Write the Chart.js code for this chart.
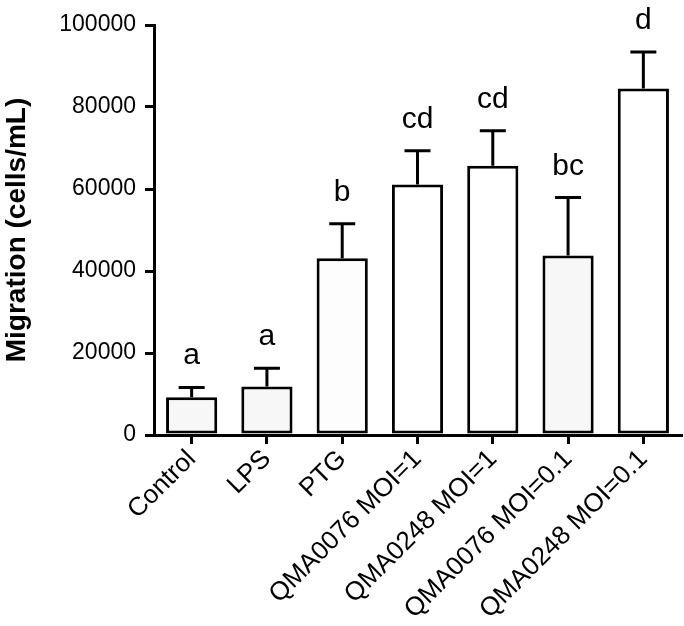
<!DOCTYPE html>
<html>
<head>
<meta charset="utf-8">
<script src="https://cdn.jsdelivr.net/npm/chart.js@4"></script>
<style>
  html, body { margin: 0; padding: 0; background: #fff; }
  #wrap { width: 684px; height: 626px; }
</style>
</head>
<body>
<div id="wrap"><canvas id="chart"></canvas></div>
<script>
const groups = ['Control', 'LPS', 'PTG', 'QMA0076 MOI=1', 'QMA0248 MOI=1', 'QMA0076 MOI=0.1', 'QMA0248 MOI=0.1']
const means = [9200, 11800, 43100, 61100, 65700, 43800, 84500]
const errors = [2400, 4500, 8400, 8200, 8500, 14100, 8900]
const letters = ['a', 'a', 'b', 'cd', 'cd', 'bc', 'd']
const fills = ['#f7f7f7', '#f7f7f7', '#fdfdfd', '#ffffff', '#ffffff', '#f7f7f7', '#ffffff']

const FONT = '"Liberation Sans", Arial, sans-serif'

// error bars (upper only) and significance letters
const errorBars = {
  id: 'errorBars',
  afterDatasetsDraw(chart) {
    const { ctx, scales: { x, y } } = chart
    ctx.save()
    ctx.strokeStyle = '#000'
    ctx.lineWidth = 3
    ctx.fillStyle = '#000'
    ctx.font = '30px ' + FONT
    ctx.textAlign = 'center'
    ctx.textBaseline = 'alphabetic'
    means.forEach((m, i) => {
      const cx = x.getPixelForValue(i)
      const top = y.getPixelForValue(m)
      const cap = y.getPixelForValue(m + errors[i])
      ctx.beginPath()
      ctx.moveTo(cx, top)
      ctx.lineTo(cx, cap)
      ctx.moveTo(cx - 13, cap)
      ctx.lineTo(cx + 13, cap)
      ctx.stroke()
      ctx.fillText(letters[i], cx, cap - 23)
    })
    ctx.restore()
  },
}

const ctx = document.getElementById('chart').getContext('2d')

/* eslint-disable no-new */
new Chart(ctx, {
  type: 'bar',
  data: {
    labels: groups,
    datasets: [{
      data: means,
      backgroundColor: fills,
      borderColor: '#000',
      borderWidth: 3,
      borderSkipped: false,
      barPercentage: 0.68,
      categoryPercentage: 1,
    }],
  },
  options: {
    responsive: true,
    maintainAspectRatio: false,
    animation: false,
    layout: { padding: { top: 25, right: 3, left: 0, bottom: 0 } },
    plugins: {
      legend: { display: false },
      tooltip: { enabled: false },
    },
    scales: {
      x: {
        grid: {
          display: true,
          drawOnChartArea: false,
          drawTicks: true,
          offset: false,
          tickLength: 9,
          lineWidth: 3,
          color: '#000',
        },
        border: { display: true, width: 3, color: '#000' },
        ticks: {
          color: '#000',
          font: { family: FONT, size: 26 },
          minRotation: 45,
          maxRotation: 45,
          padding: 0,
          autoSkip: false,
        },
        afterFit(scale) { scale.height = 191 },
      },
      y: {
        min: 0,
        max: 100000,
        grid: {
          display: true,
          drawOnChartArea: false,
          drawTicks: true,
          tickLength: 9,
          lineWidth: 3,
          color: '#000',
        },
        border: { display: true, width: 3, color: '#000' },
        ticks: {
          stepSize: 20000,
          color: '#000',
          font: { family: FONT, size: 23 },
          padding: 9,
          callback: (v) => String(v),
        },
        title: {
          display: true,
          text: 'Migration (cells/mL)',
          color: '#000',
          font: { family: FONT, size: 28, weight: 'bold' },
          padding: { top: 0, bottom: 4 },
        },
        afterFit(scale) { scale.width = 154 },
      },
    },
  },
  plugins: [errorBars],
})
</script>
</body>
</html>
